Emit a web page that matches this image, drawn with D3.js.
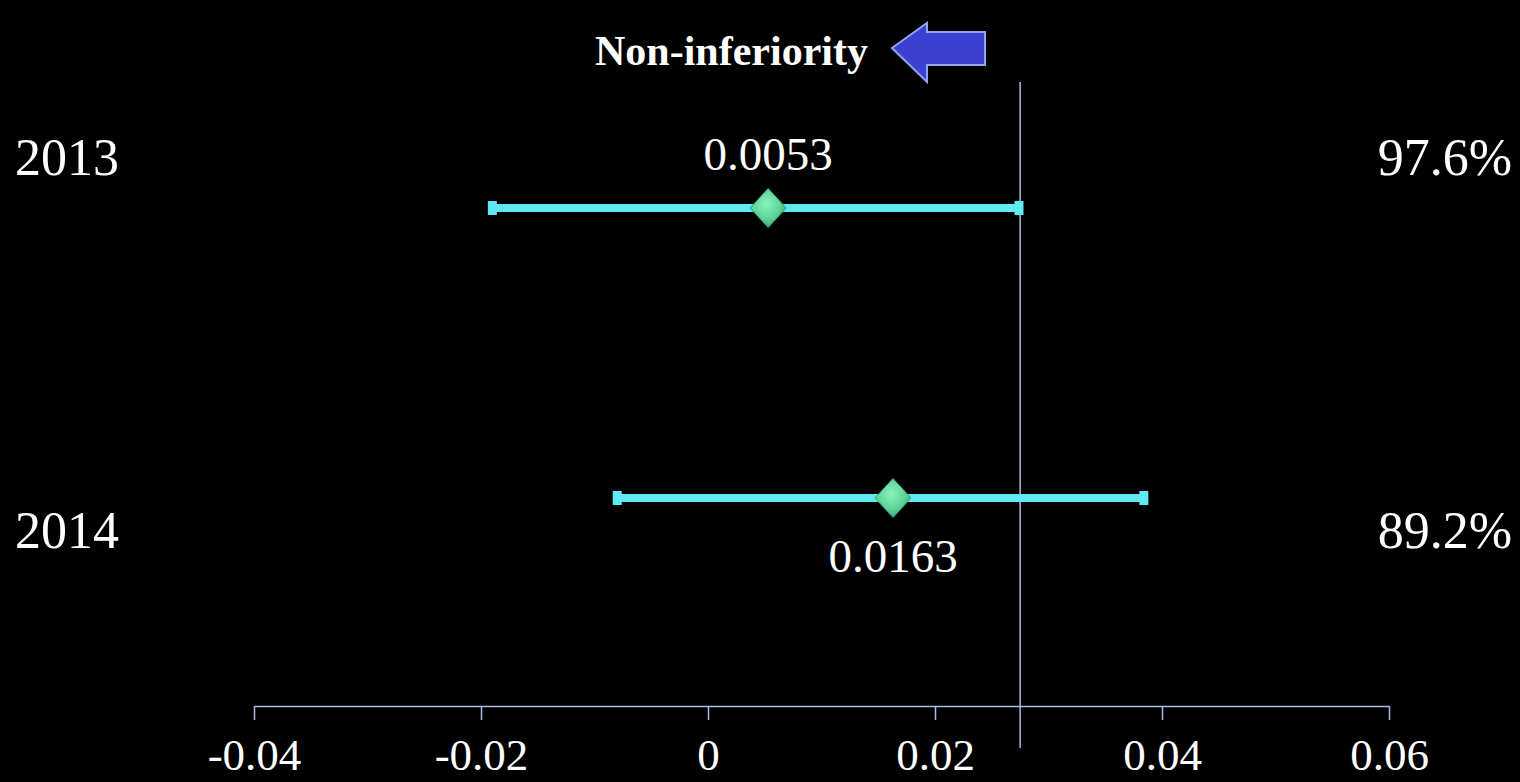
<!DOCTYPE html>
<html>
<head>
<meta charset="utf-8">
<script src="https://cdn.jsdelivr.net/npm/d3@7"></script>
<style>
  html, body { margin: 0; padding: 0; background: #000; }
  svg { display: block; }
</style>
</head>
<body>
<svg id="chart" width="1520" height="782"></svg>
<script>
// Forest plot: difference in proportions with confidence intervals per year
const years = ["2013", "2014"];
const estimates = [0.0053, 0.0163];
const lowerCI = [-0.0190, -0.0080];
const upperCI = [0.0274, 0.0384];
const rates = ["97.6%", "89.2%"];
const margin = 0.0275;
const tickValues = [-0.04, -0.02, 0, 0.02, 0.04, 0.06];
const tickLabels = ["-0.04", "-0.02", "0", "0.02", "0.04", "0.06"];
const title = "Non-inferiority";

const svg = d3.select("#chart");

const x = d3.scaleLinear().domain([-0.04, 0.06]).range([254, 1389]);
const y = d3.scalePoint().domain(years).range([208, 498]);
const yLabel = d3.scalePoint().domain(years).range([175, 548]);

const serif = "'Liberation Serif', 'Times New Roman', serif";
const lineColor = "#a7bde3";
const barColor = "#5fe9f2";

const defs = svg.append("defs");
const grad = defs.append("radialGradient").attr("id", "diamondFill")
  .attr("cx", "45%").attr("cy", "40%").attr("r", "65%");
grad.append("stop").attr("offset", "0%").attr("stop-color", "#8cf0bd");
grad.append("stop").attr("offset", "60%").attr("stop-color", "#5cd49a");
grad.append("stop").attr("offset", "100%").attr("stop-color", "#2f9c69");

// Non-inferiority margin
svg.append("line")
  .attr("x1", x(margin)).attr("x2", x(margin))
  .attr("y1", 82).attr("y2", 748)
  .attr("stroke", lineColor).attr("stroke-width", 1.5);

// X axis
const axis = d3.axisBottom(x)
  .tickValues(tickValues)
  .tickFormat((d, i) => tickLabels[i])
  .tickSize(14)
  .tickSizeOuter(0);

const gAxis = svg.append("g")
  .attr("transform", "translate(0,706)")
  .call(axis);
gAxis.select(".domain").attr("stroke", lineColor).attr("stroke-width", 1.5);
gAxis.selectAll(".tick line").attr("stroke", lineColor).attr("stroke-width", 1.5);
gAxis.selectAll(".tick text")
  .attr("fill", "#fff")
  .attr("font-family", serif)
  .attr("font-size", 45)
  .attr("y", 64)
  .attr("dy", 0);

// Confidence intervals
const rows = years.map((yr, i) => ({
  year: yr, est: estimates[i], lo: lowerCI[i], hi: upperCI[i], rate: rates[i], i
}));

const g = svg.append("g");
g.selectAll("line.ci").data(rows).join("line")
  .attr("class", "ci")
  .attr("x1", d => x(d.lo)).attr("x2", d => x(d.hi))
  .attr("y1", d => y(d.year)).attr("y2", d => y(d.year))
  .attr("stroke", barColor).attr("stroke-width", 8);

["lo", "hi"].forEach(k => {
  g.selectAll("rect.cap-" + k).data(rows).join("rect")
    .attr("class", "cap-" + k)
    .attr("x", d => x(d[k]) - 4.5)
    .attr("y", d => y(d.year) - 7)
    .attr("width", 9).attr("height", 14)
    .attr("fill", barColor);
});

// Point estimates
const dw = 18, dh = 19.5;
g.selectAll("path.est").data(rows).join("path")
  .attr("class", "est")
  .attr("d", d => {
    const cx = x(d.est), cy = y(d.year);
    return `M${cx},${cy - dh}L${cx + dw},${cy}L${cx},${cy + dh}L${cx - dw},${cy}Z`;
  })
  .attr("fill", "url(#diamondFill)")
  .attr("stroke", "#3aa874").attr("stroke-width", 1);

// Estimate values
g.selectAll("text.val").data(rows).join("text")
  .attr("class", "val")
  .attr("x", d => x(d.est))
  .attr("y", d => d.i === 0 ? y(d.year) - 38 : y(d.year) + 74)
  .attr("text-anchor", "middle")
  .attr("fill", "#fff")
  .attr("font-family", serif)
  .attr("font-size", 47)
  .text(d => d.est.toFixed(4));

// Year labels
g.selectAll("text.year").data(rows).join("text")
  .attr("class", "year")
  .attr("x", 15)
  .attr("y", d => yLabel(d.year))
  .attr("fill", "#fff")
  .attr("font-family", serif)
  .attr("font-size", 52)
  .text(d => d.year);

// Rates
g.selectAll("text.rate").data(rows).join("text")
  .attr("class", "rate")
  .attr("x", 1512)
  .attr("y", d => yLabel(d.year))
  .attr("text-anchor", "end")
  .attr("fill", "#fff")
  .attr("font-family", serif)
  .attr("font-size", 52)
  .text(d => d.rate);

// Title with arrow pointing left
svg.append("text")
  .attr("x", 595).attr("y", 65)
  .attr("fill", "#fff")
  .attr("font-family", serif)
  .attr("font-weight", "bold")
  .attr("font-size", 42)
  .text(title);

svg.append("path")
  .attr("d", "M892,48L927,23L927,32L985,32L985,65L927,65L927,82Z")
  .attr("fill", "#3b40d2")
  .attr("stroke", "#8fa6ea")
  .attr("stroke-width", 2)
  .attr("stroke-linejoin", "miter");
</script>
</body>
</html>
